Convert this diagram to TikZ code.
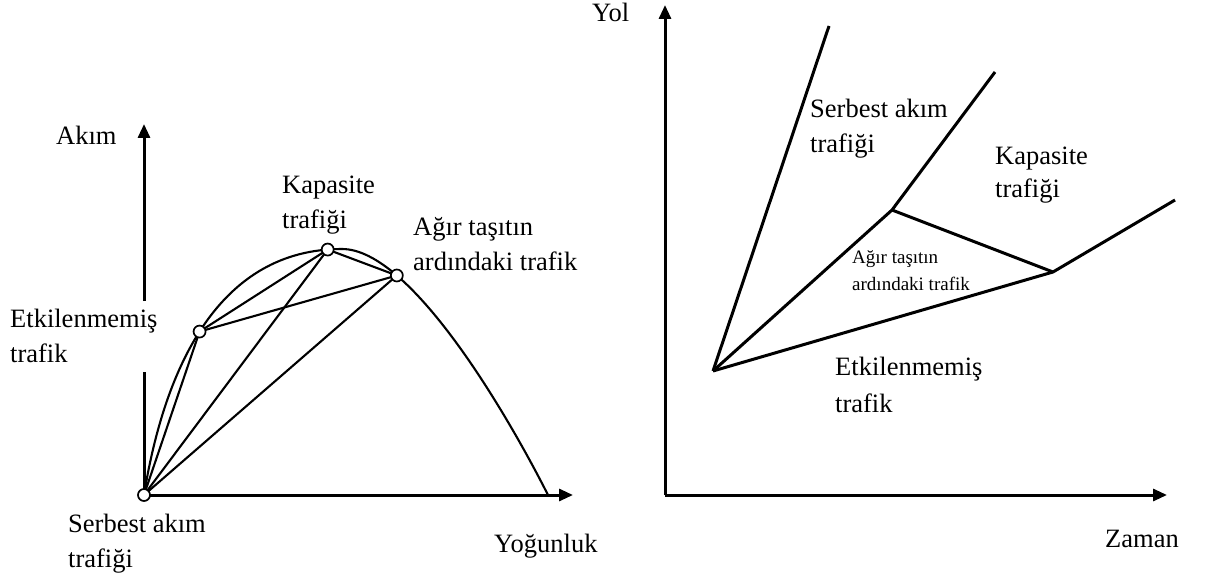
\documentclass[tikz,border=0pt]{standalone}
\usepackage{fontspec}
\setmainfont{Liberation Serif}
\usetikzlibrary{arrows.meta}
\begin{document}
\begin{tikzpicture}[x=1pt,y=-1pt,
  lbl/.style={anchor=base west, inner sep=0pt, align=left, font=\fontsize{26.5}{35}\selectfont},
  smalllbl/.style={anchor=base west, inner sep=0pt, align=left, font=\fontsize{19}{27}\selectfont},
  axisline/.style={line width=3pt},
  arr/.style={-{Triangle[length=14pt,width=12pt]}},
  chord/.style={line width=2.1pt},
  flowcurve/.style={line width=2.1pt},
  road/.style={line width=3pt, line join=round},
  dot/.style={circle, draw, fill=white, line width=1.7pt, minimum size=12pt, inner sep=0pt},
]
\useasboundingbox (0,0) rectangle (1217,580);

% ---------- left diagram ----------
\coordinate (LyTip) at (144,124);
\coordinate (LgapTop) at (144,301);
\coordinate (LgapBot) at (144,372);
\coordinate (LxTip) at (573,495);
\coordinate (Lorig) at (144,495);
\coordinate (Lpeak) at (342,249);
\coordinate (Lend) at (548,495);

\draw[axisline] (Lorig) -- (LgapBot);
\draw[axisline,arr] (LgapTop) -- (LyTip);
\draw[axisline,arr] (Lorig) -- (LxTip);

\draw[flowcurve] (Lorig) .. controls (165,365) and (220,249) .. (Lpeak)
   coordinate[pos=0.47] (Ep) coordinate[pos=0.96] (Kp);
\draw[flowcurve] (Lpeak) .. controls (410,249) and (505,410) .. (Lend)
   coordinate[pos=0.25] (Ap);

\draw[chord] (Lorig) -- (Ep);
\draw[chord] (Lorig) -- (Kp);
\draw[chord] (Lorig) -- (Ap);
\draw[chord] (Ep) -- (Kp);
\draw[chord] (Ep) -- (Ap);
\draw[chord] (Kp) -- (Ap);

\node[dot] (O) at (Lorig) {};
\node[dot] (E) at (Ep) {};
\node[dot] (K) at (Kp) {};
\node[dot] (A) at (Ap) {};

\node[lbl] (akim) at (56,145) {Akım};
\node[lbl] (kap1) at (282,228) {Kapasite\\trafiği};
\node[lbl] (agir1) at (413,270) {Ağır taşıtın\\ardındaki trafik};
\node[lbl] (etk1) at (10,362) {Etkilenmemiş\\trafik};
\node[lbl] (ser1) at (68,567) {Serbest akım\\trafiği};
\node[lbl] (yog) at (494,552) {Yoğunluk};

% ---------- right diagram ----------
\coordinate (Rorig) at (665,495);
\coordinate (RyTip) at (665,5);
\coordinate (RxTip) at (1167,495);
\draw[axisline,arr] (Rorig) -- (RyTip);
\draw[axisline,arr] (Rorig) -- (RxTip);

\coordinate (P) at (713,371);
\coordinate (Q) at (892,210);
\coordinate (R) at (1053,272);
\coordinate (T1) at (829,26);
\coordinate (T2) at (995,72);
\coordinate (T3) at (1175,200);

\draw[road] (P) -- (T1);
\draw[road] (P) -- (Q) -- (T2);
\draw[road] (Q) -- (R);
\draw[road] (P) -- (R) -- (T3);

\node[lbl] (yol) at (592,22) {Yol};
\node[lbl] (ser2) at (810,153) {Serbest akım\\trafiği};
\node[lbl,font=\fontsize{26.5}{33}\selectfont] (kap2) at (995,197) {Kapasite\\trafiği};
\node[smalllbl] (agir2) at (852,290) {Ağır taşıtın\\ardındaki trafik};
\node[lbl,font=\fontsize{26.5}{37}\selectfont] (etk2) at (835,412) {Etkilenmemiş\\trafik};
\node[lbl] (zaman) at (1105,547) {Zaman};
\end{tikzpicture}
\end{document}
